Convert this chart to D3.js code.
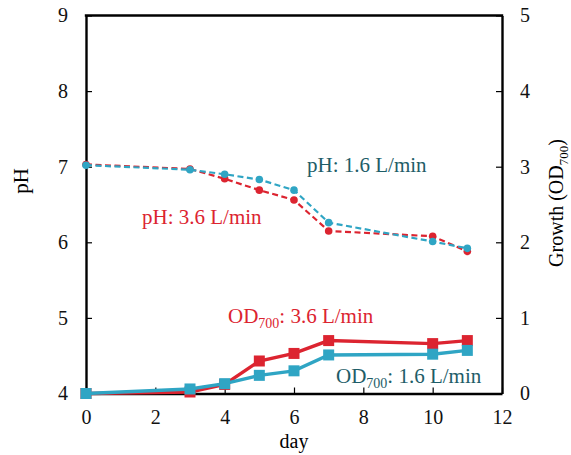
<!DOCTYPE html>
<html>
<head>
<meta charset="utf-8">
<script src="https://cdn.jsdelivr.net/npm/d3@7"></script>
<style>
  body { margin: 0; background: #fff; }
  svg text { font-family: "Liberation Serif", "Times New Roman", serif; }
</style>
</head>
<body>
<div id="chart"></div>
<script>
// Culture days and measurements at two aeration rates
const days = [0, 3, 4, 5, 6, 7, 10, 11];
const pH36 = [7.03, 6.97, 6.84, 6.69, 6.56, 6.15, 6.08, 5.88];
const pH16 = [7.02, 6.96, 6.90, 6.83, 6.69, 6.26, 6.01, 5.92];
const od36 = [0.00, 0.02, 0.12, 0.43, 0.53, 0.70, 0.66, 0.70];
const od16 = [0.00, 0.06, 0.13, 0.24, 0.30, 0.51, 0.52, 0.57];
const xTicks = [0, 2, 4, 6, 8, 10, 12];
const pHTicks = [4, 5, 6, 7, 8, 9];
const odTicks = [0, 1, 2, 3, 4, 5];

const W = 571, H = 455;
const m = { left: 86, right: 69, top: 15.5, bottom: 61.5 };
const RED = "#dc2430", BLUE = "#2fa5c4", TEAL = "#1e5d68";

const svg = d3.select("#chart").append("svg").attr("width", W).attr("height", H);

const x = d3.scaleLinear().domain([0, 12]).range([m.left, W - m.right]);
const yL = d3.scaleLinear().domain([4, 9]).range([H - m.bottom, m.top]);
const yR = d3.scaleLinear().domain([0, 5]).range([H - m.bottom, m.top]);

// Axes with inward ticks
const tickFs = "20px", fs = "21px";
const fmt = d3.format("d");
const gx = svg.append("g").attr("transform", `translate(0,${H - m.bottom})`)
  .call(d3.axisBottom(x).tickValues(xTicks).tickFormat(fmt).tickSize(-6).tickPadding(16).tickSizeOuter(0));
const gl = svg.append("g").attr("transform", `translate(${m.left},0)`)
  .call(d3.axisLeft(yL).tickValues(pHTicks).tickFormat(fmt).tickSize(-6).tickPadding(18).tickSizeOuter(0));
const gr = svg.append("g").attr("transform", `translate(${W - m.right},0)`)
  .call(d3.axisRight(yR).tickValues(odTicks).tickFormat(fmt).tickSize(-6).tickPadding(18).tickSizeOuter(0));
[gx, gl, gr].forEach(g => {
  g.selectAll("text").attr("font-size", tickFs).attr("fill", "#111")
    .style("font-family", "'Liberation Serif', serif");
  g.select(".domain").attr("stroke", "#000").attr("stroke-width", 2.4);
  g.selectAll(".tick line").attr("stroke", "#000").attr("stroke-width", 1.2);
});
gx.selectAll(".tick text").attr("dy", "0.71em");
// Top frame line
svg.append("line")
  .attr("x1", x(0) - 1.2).attr("x2", x(12) + 1.2).attr("y1", yL(9)).attr("y2", yL(9))
  .attr("stroke", "#000").attr("stroke-width", 2.4);

// Axis titles
svg.append("text").attr("x", x(6)).attr("y", 448).attr("text-anchor", "middle")
  .attr("font-size", "20px").text("day");
svg.append("text").attr("transform", "translate(28,181) rotate(-90)")
  .attr("text-anchor", "middle").attr("font-size", fs).text("pH");
const rt = svg.append("text").attr("transform", "translate(563,203) rotate(-90)")
  .attr("text-anchor", "middle").attr("font-size", "20px");
rt.append("tspan").text("Growth (OD");
rt.append("tspan").attr("font-size", "13px").attr("dy", 5).text("700");
rt.append("tspan").attr("dy", -5).text(")");

const pts = (vals) => days.map((d, i) => [d, vals[i]]);

// pH series: dashed lines with round markers
function phSeries(vals, color) {
  const line = d3.line().x(d => x(d[0])).y(d => yL(d[1]));
  svg.append("path").datum(pts(vals)).attr("d", line)
    .attr("fill", "none").attr("stroke", color).attr("stroke-width", 2.2)
    .attr("stroke-dasharray", "6,3.5");
  svg.append("g").selectAll("circle").data(pts(vals)).join("circle")
    .attr("cx", d => x(d[0])).attr("cy", d => yL(d[1])).attr("r", 3.8)
    .attr("fill", color);
}
phSeries(pH36, RED);
phSeries(pH16, BLUE);

// OD series: solid lines with square markers
function odSeries(vals, color) {
  const line = d3.line().x(d => x(d[0])).y(d => yR(d[1]));
  svg.append("path").datum(pts(vals)).attr("d", line)
    .attr("fill", "none").attr("stroke", color).attr("stroke-width", 3.4);
  const s = 11;
  svg.append("g").selectAll("rect").data(pts(vals)).join("rect")
    .attr("x", d => x(d[0]) - s / 2).attr("y", d => yR(d[1]) - s / 2)
    .attr("width", s).attr("height", s).attr("fill", color);
}
odSeries(od36, RED);
odSeries(od16, BLUE);

// Series labels
svg.append("text").attr("x", 307).attr("y", 172).attr("font-size", fs)
  .attr("fill", TEAL).text("pH: 1.6 L/min");
svg.append("text").attr("x", 142).attr("y", 224).attr("font-size", fs)
  .attr("fill", RED).text("pH: 3.6 L/min");
function odLabel(xp, yp, color, rate) {
  const t = svg.append("text").attr("x", xp).attr("y", yp).attr("font-size", fs).attr("fill", color);
  t.append("tspan").text("OD");
  t.append("tspan").attr("font-size", "14px").attr("dy", 5).text("700");
  t.append("tspan").attr("dy", -5).text(": " + rate + " L/min");
}
odLabel(228, 323, RED, "3.6");
odLabel(336, 383, TEAL, "1.6");
</script>
</body>
</html>
